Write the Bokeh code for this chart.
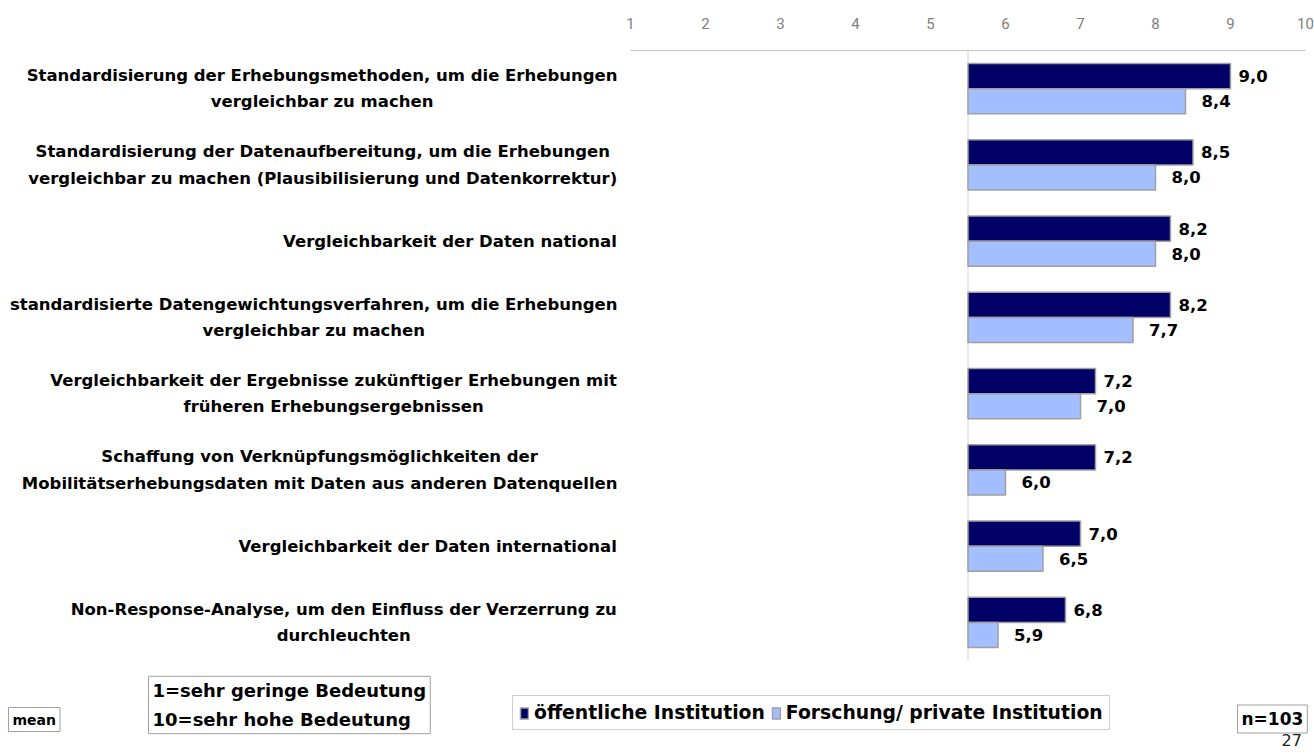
from bokeh.plotting import figure
from bokeh.models import Label, Legend, LegendItem, FixedTicker, Range1d, ColumnDataSource
from bokeh.embed import file_html
from bokeh.resources import INLINE
from bokeh.core.properties import value

# ---- data ----
categories = [
    "Standardisierung der Erhebungsmethoden, um die Erhebungen\nvergleichbar zu machen",
    "Standardisierung der Datenaufbereitung, um die Erhebungen\nvergleichbar zu machen (Plausibilisierung und Datenkorrektur)",
    "Vergleichbarkeit der Daten national",
    "standardisierte Datengewichtungsverfahren, um die Erhebungen\nvergleichbar zu machen",
    "Vergleichbarkeit der Ergebnisse zukünftiger Erhebungen mit\nfrüheren Erhebungsergebnissen",
    "Schaffung von Verknüpfungsmöglichkeiten der\nMobilitätserhebungsdaten mit Daten aus anderen Datenquellen",
    "Vergleichbarkeit der Daten international",
    "Non-Response-Analyse, um den Einfluss der Verzerrung zu\ndurchleuchten",
]
oeffentlich = [9.0, 8.5, 8.2, 8.2, 7.2, 7.2, 7.0, 6.8]
forschung = [8.4, 8.0, 8.0, 7.7, 7.0, 6.0, 6.5, 5.9]
series_names = ["öffentliche Institution", "Forschung/ private Institution"]
ticks = [1, 2, 3, 4, 5, 6, 7, 8, 9, 10]
baseline = 5.5
scale_note = "1=sehr geringe Bedeutung\n10=sehr hohe Bedeutung"
stat_note = "mean"
n_note = "n=103"
page_no = "27"

# ---- layout / style ----
W, H = 1314, 753
TOP = 50                 # frame top (canvas px)
AX_LEFT_PX = 630         # canvas px of value 1
PX_PER_X = 75.0
PX_PER_Y = 610.0 / 8.0
LABEL_RIGHT = 617        # right edge of category labels (canvas px)
DARK = "#000066"
LIGHT = "#A3BFFF"
EDGE = "#A0A0A0"
FONT = "DejaVu Sans"
CAT_SIZE = 16.5

n = len(categories)
x_start = 1 - AX_LEFT_PX / PX_PER_X
x_end = 1 + (W - AX_LEFT_PX) / PX_PER_X
y_bottom = (H - TOP) / PX_PER_Y

def yd(c):
    return (c - TOP) / PX_PER_Y

p = figure(width=W, height=H, output_backend="svg", toolbar_location=None,
           x_range=Range1d(x_start, x_end), y_range=Range1d(y_bottom, 0),
           x_axis_location="above", min_border_left=0, min_border_right=0,
           min_border_top=TOP, min_border_bottom=0)
p.outline_line_color = None
p.xgrid.visible = False
p.ygrid.visible = False
p.yaxis.visible = False

ax = p.xaxis[0]
ax.ticker = FixedTicker(ticks=ticks)
ax.bounds = (ticks[0], ticks[-1])
ax.major_tick_out = 0
ax.major_tick_in = 0
ax.minor_tick_out = 0
ax.minor_tick_in = 0
ax.axis_line_color = "#C8C8C8"
ax.major_label_text_color = "#808080"
ax.major_label_text_font = "Roboto"
ax.major_label_text_font_size = "15px"
ax.major_label_standoff = 22

# vertical base line
p.segment(x0=[baseline], y0=[0], x1=[baseline], y1=[n], line_color="#D4D4D4", line_width=1)

idx = list(range(n))
dark_y = [i + 0.5 - 0.165 for i in idx]
light_y = [i + 0.5 + 0.165 for i in idx]

fmt = lambda v: f"{v:.1f}".replace(".", ",")
src_d = ColumnDataSource(dict(y=dark_y, v=oeffentlich, t=[fmt(v) for v in oeffentlich]))
src_l = ColumnDataSource(dict(y=light_y, v=forschung, t=[fmt(v) for v in forschung]))

r_d = p.hbar(y="y", left=baseline, right="v", height=0.33, source=src_d,
             fill_color=DARK, line_color=EDGE, line_width=1.5)
r_l = p.hbar(y="y", left=baseline, right="v", height=0.33, source=src_l,
             fill_color=LIGHT, line_color=EDGE, line_width=1.5)

p.text(x="v", y="y", text="t", source=src_d, x_offset=8, text_baseline="middle",
       text_font=value(FONT), text_font_style="bold", text_font_size="16.5px", text_color="black")
p.text(x="v", y="y", text="t", source=src_l, x_offset=16, text_baseline="middle",
       text_font=value(FONT), text_font_style="bold", text_font_size="16.5px", text_color="black")

# approximate advance widths (em) of DejaVu Sans Bold, to centre the label lines
_W = {" ": .348, "(": .457, ")": .457, ",": .380, "-": .415, ".": .380, "/": .365,
      "A": .774, "B": .762, "C": .734, "D": .830, "E": .683, "F": .683, "G": .821, "H": .837,
      "I": .372, "J": .372, "K": .775, "L": .637, "M": .995, "N": .837, "O": .850, "P": .733,
      "Q": .850, "R": .770, "S": .720, "T": .682, "U": .812, "V": .774, "W": 1.103, "X": .771,
      "Y": .724, "Z": .725, "a": .675, "b": .716, "c": .593, "d": .716, "e": .678, "f": .435,
      "g": .716, "h": .712, "i": .343, "j": .343, "k": .665, "l": .343, "m": 1.042, "n": .712,
      "o": .687, "p": .716, "q": .716, "r": .493, "s": .595, "t": .478, "u": .712, "v": .652,
      "w": .924, "x": .645, "y": .652, "z": .582, "ä": .675, "ö": .687, "ü": .712}

def text_w(s, size):
    return sum(_W.get(ch, .696) for ch in s) * size

for i, cat in enumerate(categories):
    maxw = max(text_w(line, CAT_SIZE) for line in cat.split("\n"))
    cx = LABEL_RIGHT - maxw / 2
    p.add_layout(Label(x=cx, y=i + 0.5, x_units="screen", y_units="data", text=cat,
                       text_align="center", text_baseline="middle",
                       text_font=FONT, text_font_style="bold", text_font_size=f"{CAT_SIZE}px",
                       text_color="black", text_line_height=1.4))

# bottom notes
def box_label(x, yc, text, size=16, lh=1.25):
    p.add_layout(Label(x=x, y=yd(yc), x_units="screen", y_units="data", text=text,
                       text_align="left", text_baseline="middle",
                       text_font=FONT, text_font_style="bold", text_font_size=f"{size}px",
                       text_color="black", border_line_color="#A0A0A0", border_line_width=1,
                       background_fill_color="white", padding=4, text_line_height=lh))

box_label(8, 719, stat_note, size=14)
box_label(148, 704.5, scale_note, size=18, lh=1.35)
box_label(1237, 718.5, n_note, size=17)

p.add_layout(Label(x=1281, y=yd(733), x_units="screen", y_units="data", text=page_no,
                   text_align="left", text_baseline="top", text_font=FONT,
                   text_font_size="16px", text_color="#222222"))

legend = Legend(items=[LegendItem(label=series_names[0], renderers=[r_d]),
                       LegendItem(label=series_names[1], renderers=[r_l])],
                orientation="horizontal", location=(512, H - 730),
                label_text_font=FONT, label_text_font_style="bold",
                label_text_font_size="18.8px", label_text_color="black",
                glyph_width=10, glyph_height=14, label_standoff=5, spacing=6,
                padding=6, margin=0, border_line_color="#A0A0A0",
                label_height=18, background_fill_alpha=1.0)
p.add_layout(legend, "center")

html = file_html(p, INLINE)
open("out.html", "w").write(html)
